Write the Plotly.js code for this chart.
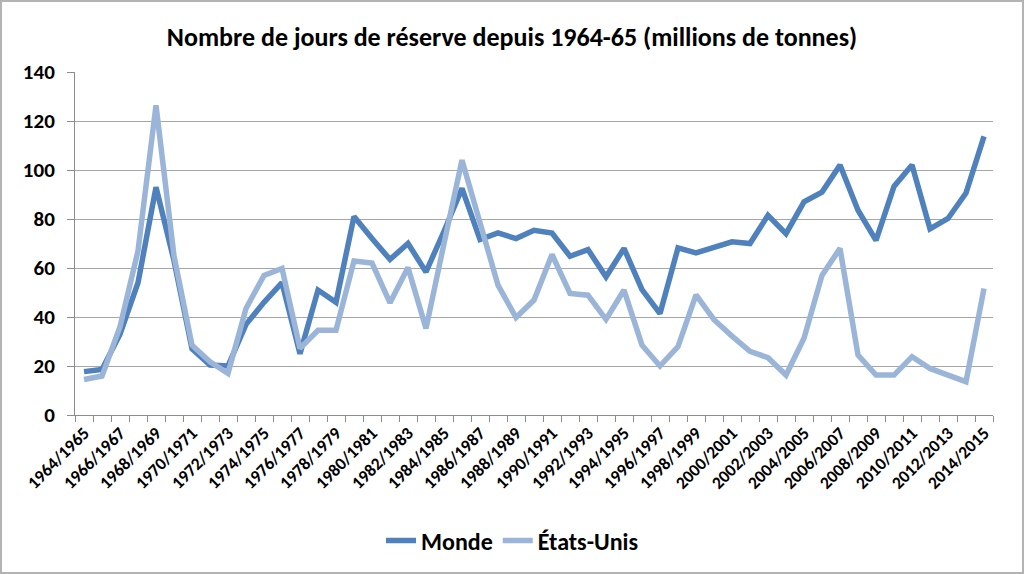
<!DOCTYPE html>
<html>
<head>
<meta charset="utf-8">
<script src="https://cdn.plot.ly/plotly-3.0.1.min.js"></script>
<style>
html,body{margin:0;padding:0;background:#fff;}
#wrap{position:relative;width:1024px;height:574px;}
#chart{width:1024px;height:574px;}
#frame{position:absolute;left:0;top:0;width:1020px;height:570px;border:2px solid #b3b3b3;pointer-events:none;}
</style>
</head>
<body>
<div id="wrap"><div id="chart"></div><div id="frame"></div></div>
<script>
const seasons = ["1964/1965","1965/1966","1966/1967","1967/1968","1968/1969","1969/1970","1970/1971","1971/1972","1972/1973","1973/1974","1974/1975","1975/1976","1976/1977","1977/1978","1978/1979","1979/1980","1980/1981","1981/1982","1982/1983","1983/1984","1984/1985","1985/1986","1986/1987","1987/1988","1988/1989","1989/1990","1990/1991","1991/1992","1992/1993","1993/1994","1994/1995","1995/1996","1996/1997","1997/1998","1998/1999","1999/2000","2000/2001","2001/2002","2002/2003","2003/2004","2004/2005","2005/2006","2006/2007","2007/2008","2008/2009","2009/2010","2010/2011","2011/2012","2012/2013","2013/2014","2014/2015"];
const monde = [17.7,18.6,33,54,93,63,27,20.4,20,37,46,54,25,51,46,81,72,63.5,70,58.4,75,92.5,71.6,74.3,72,75.4,74.3,64.8,67.5,56.4,68,51.2,41.4,68.2,66.2,68.3,70.7,70,81.5,74,87,91,102,83.6,71.3,93.3,102,76,80.2,90.6,113.7];
const etatsUnis = [14.5,15.9,36,67,126.4,65,28.5,21.7,17,43.5,57,59.8,27.2,34.6,34.6,62.9,62,45.8,60.2,35.3,70,104,78.5,53,39.8,46.9,65.5,49.6,48.9,39,51,28.5,20,27.9,49,38.9,32.2,26,23.4,16.3,31.3,57,68,24.5,16.3,16.3,23.8,19,16.3,13.6,51.6];
const yTicks = [0,20,40,60,80,100,120,140];
const tickText = seasons.map((s,i)=> i%2===0 ? s : "");

const FONT = "Carlito, Lato, 'Open Sans', sans-serif";
const traces = [
  {x: seasons, y: monde, name: "Monde", type: "scatter", mode: "lines",
   line: {color: "#4f81bd", width: 5.5}},
  {x: seasons, y: etatsUnis, name: "États-Unis", type: "scatter", mode: "lines",
   line: {color: "#9bb5d8", width: 5.5}}
];
const layout = {
  width: 1024, height: 574,
  margin: {l: 75, r: 31, t: 72, b: 158},
  paper_bgcolor: "#fff", plot_bgcolor: "#fff",
  font: {family: FONT, color: "#000"},
  title: {text: "<b>Nombre de jours de réserve depuis 1964-65 (millions de tonnes)</b>",
          font: {family: FONT, size: 26, color: "#000"}, x: 0.5, xanchor: "center", y: 0.935, yanchor: "middle"},
  xaxis: {type: "category", tickmode: "array", tickvals: seasons, ticktext: tickText,
          tickson: "boundaries", ticks: "outside", ticklen: 6, tickcolor: "#8c8c8c",
          tickangle: -45, tickfont: {family: FONT, size: 17.5, color: "#000", weight: "bold"},
          showgrid: false, showline: true, linecolor: "#8c8c8c", linewidth: 1,
          range: [-0.5, 50.5], zeroline: false, fixedrange: true},
  yaxis: {range: [0, 140], tickmode: "array", tickvals: yTicks, ticktext: yTicks.map(String),
          ticks: "outside", ticklen: 7, tickcolor: "#8c8c8c", ticklabelstandoff: 8,
          tickfont: {family: FONT, size: 21, color: "#000", weight: "bold"},
          showgrid: true, gridcolor: "#a6a6a6", gridwidth: 1,
          showline: true, linecolor: "#8c8c8c", linewidth: 1, zeroline: false, fixedrange: true},
  showlegend: true,
  legend: {orientation: "h", x: 0.4766, xanchor: "center", y: -0.363, yanchor: "middle",
           font: {family: FONT, size: 24, color: "#000", weight: "bold"}, itemwidth: 30,
           traceorder: "normal"}
};
Plotly.newPlot("chart", traces, layout, {displayModeBar: false, staticPlot: true});
</script>
</body>
</html>
